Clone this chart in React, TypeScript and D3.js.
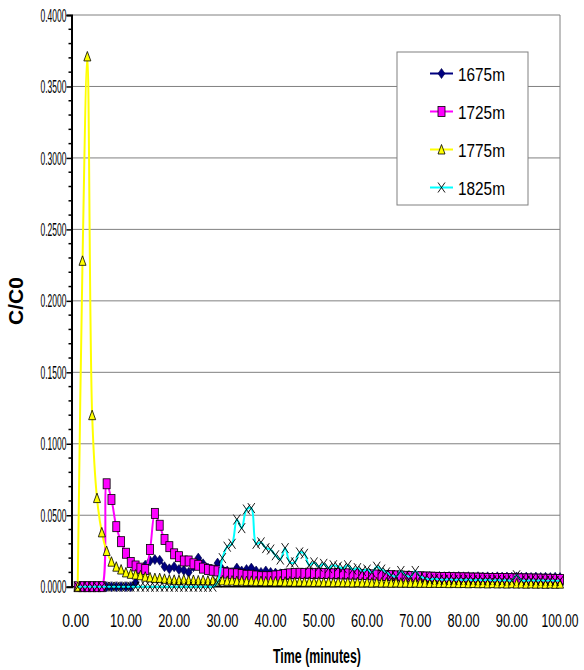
import React, { useEffect, useRef } from 'react';
import * as d3 from 'd3';

const width = 584;
const height = 670;

// C/C0 readings, one per minute from 0 to 100
const s1675 = [
  0, 0, 0, 0, 0, 0, 0, 0, 0, 0,
  0, 0, 0.003, 0.009, 0.015, 0.018, 0.019, 0.0185, 0.014, 0.0125,
  0.014, 0.012, 0.0115, 0.010, 0.014, 0.020, 0.016, 0.013, 0.012, 0.0165,
  0.012, 0.011, 0.010, 0.013, 0.011, 0.012, 0.013, 0.011, 0.010, 0.011,
  0.010, 0.0095, 0.009, 0.0092, 0.0088, 0.009, 0.0085, 0.0087, 0.0083, 0.0085,
  0.0082, 0.0084, 0.008, 0.0082, 0.0079, 0.008, 0.0078, 0.008, 0.0077, 0.0079,
  0.0076, 0.0078, 0.0075, 0.0077, 0.0074, 0.0076, 0.0073, 0.0075, 0.0072, 0.0074,
  0.0072, 0.0073, 0.0071, 0.0073, 0.007, 0.0072, 0.007, 0.0071, 0.0069, 0.0071,
  0.0069, 0.007, 0.0068, 0.007, 0.0068, 0.0069, 0.0067, 0.0069, 0.0067, 0.0068,
  0.0066, 0.0068, 0.0066, 0.0067, 0.0065, 0.0067, 0.0065, 0.0066, 0.0064, 0.0066, 0.0064,
];

const s1725 = [
  0, 0, 0, 0, 0, 0, 0.072, 0.061, 0.042, 0.0315,
  0.0234, 0.017, 0.0145, 0.013, 0.012, 0.026, 0.0513, 0.043, 0.033, 0.028,
  0.023, 0.021, 0.018, 0.018, 0.016, 0.015, 0.013, 0.012, 0.0115, 0.011,
  0.010, 0.0095, 0.009, 0.009, 0.0085, 0.008, 0.008, 0.0075, 0.007, 0.007,
  0.007, 0.0075, 0.008, 0.0085, 0.009, 0.0092, 0.0094, 0.0092, 0.0095, 0.0093,
  0.0094, 0.0092, 0.0093, 0.009, 0.0092, 0.0089, 0.009, 0.0088, 0.0089, 0.0086,
  0.0085, 0.0083, 0.0082, 0.008, 0.0079, 0.0077, 0.0076, 0.0074, 0.0073, 0.0071,
  0.007, 0.0069, 0.0068, 0.0067, 0.0066, 0.0065, 0.0064, 0.0064, 0.0063, 0.0062,
  0.0062, 0.0061, 0.006, 0.006, 0.0059, 0.0058, 0.0058, 0.0057, 0.0057, 0.0056,
  0.0056, 0.0055, 0.0055, 0.0054, 0.0054, 0.0053, 0.0053, 0.0052, 0.0052, 0.0051, 0.0051,
];

const s1775 = [
  0, 0.228, 0.371, 0.120, 0.062, 0.038, 0.025, 0.0175, 0.014, 0.012,
  0.010, 0.009, 0.0085, 0.008, 0.007, 0.0065, 0.006, 0.006, 0.0055, 0.005,
  0.0048, 0.0046, 0.005, 0.0045, 0.0047, 0.0044, 0.0046, 0.0043, 0.0045, 0.0042,
  0.0044, 0.0041, 0.0043, 0.004, 0.0042, 0.0039, 0.0041, 0.0038, 0.004, 0.0037,
  0.0039, 0.0036, 0.0038, 0.0035, 0.0037, 0.0034, 0.0036, 0.0034, 0.0035, 0.0033,
  0.0035, 0.0032, 0.0034, 0.0031, 0.0033, 0.0031, 0.0032, 0.003, 0.0032, 0.003,
  0.0031, 0.0029, 0.0031, 0.0029, 0.003, 0.0028, 0.003, 0.0028, 0.0029, 0.0027,
  0.0029, 0.0027, 0.0028, 0.0026, 0.0028, 0.0026, 0.0027, 0.0025, 0.0027, 0.0025,
  0.0026, 0.0024, 0.0026, 0.0024, 0.0025, 0.0023, 0.0025, 0.0023, 0.0024, 0.0022,
  0.0024, 0.0022, 0.0023, 0.0021, 0.0023, 0.0021, 0.0022, 0.002, 0.0022, 0.002, 0.0021,
];

const s1825 = [
  0, 0, 0, 0, 0, 0, 0, 0, 0, 0,
  0, 0, 0, 0, 0, 0, 0, 0, 0, 0,
  0, 0, 0, 0, 0, 0, 0, 0, 0, 0.003,
  0.020, 0.028, 0.030, 0.047, 0.041, 0.054, 0.055, 0.030, 0.031, 0.027,
  0.026, 0.022, 0.019, 0.027, 0.017, 0.017, 0.024, 0.023, 0.015, 0.017,
  0.014, 0.016, 0.013, 0.015, 0.014, 0.013, 0.015, 0.012, 0.013, 0.011,
  0.012, 0.010, 0.014, 0.012, 0.010, 0.008, 0.007, 0.011, 0.008, 0.007,
  0.011, 0.007, 0.006, 0.005, 0.0055, 0.005, 0.0048, 0.0052, 0.0047, 0.005,
  0.0046, 0.005, 0.0045, 0.0049, 0.0045, 0.0048, 0.0044, 0.0047, 0.0043, 0.0046,
  0.0043, 0.008, 0.0045, 0.0042, 0.0046, 0.0042, 0.0045, 0.0041, 0.0044, 0.0041, 0.0043,
];

const seriesNames = ['1675m', '1725m', '1775m', '1825m'];
const seriesValues = [s1675, s1725, s1775, s1825];
const seriesColors = ['#000080', '#ff00ff', '#ffff00', '#00ffff'];
const seriesMarkers = ['diamond', 'square', 'triangle', 'cross'];

const xTicks = [0, 10, 20, 30, 40, 50, 60, 70, 80, 90, 100];
const yTicks = [0, 0.05, 0.1, 0.15, 0.2, 0.25, 0.3, 0.35, 0.4];

const plot = { left: 71.5, right: 560, top: 15, bottom: 586.7 };
const font = 'Liberation Sans, Arial, sans-serif';

function drawMarker(g, type, x, y, color) {
  if (type === 'diamond') {
    g.append('path').attr('d', `M${x},${y - 5}L${x + 3.5},${y}L${x},${y + 5}L${x - 3.5},${y}Z`)
      .attr('fill', color).attr('stroke', '#000040').attr('stroke-width', 0.6);
  } else if (type === 'square') {
    g.append('rect').attr('x', x - 3.5).attr('y', y - 5).attr('width', 7).attr('height', 10)
      .attr('fill', color).attr('stroke', '#000').attr('stroke-width', 0.8);
  } else if (type === 'triangle') {
    g.append('path').attr('d', `M${x},${y - 5}L${x + 3.5},${y + 4.5}L${x - 3.5},${y + 4.5}Z`)
      .attr('fill', color).attr('stroke', '#000').attr('stroke-width', 0.8);
  } else {
    g.append('path').attr('d', `M${x - 3.5},${y - 5}L${x + 3.5},${y + 5}M${x + 3.5},${y - 5}L${x - 3.5},${y + 5}`)
      .attr('fill', 'none').attr('stroke', '#000').attr('stroke-width', 0.9);
  }
}

// text squeezed horizontally to a given width, like the old Excel export
function squeezed(parent, x, y, str, size, targetW, anchor, bold = false) {
  const g = parent.append('g');
  const t = g.append('text')
    .attr('font-family', font).attr('font-size', size)
    .attr('font-weight', bold ? 'bold' : 'normal')
    .attr('fill', '#000')
    .text(str);
  const w = t.node().getComputedTextLength() || targetW;
  const s = targetW / w;
  const x0 = anchor === 'end' ? x - targetW : anchor === 'middle' ? x - targetW / 2 : x;
  g.attr('transform', `translate(${x0},${y}) scale(${s},1)`);
  return g;
}

const App = () => {
  const ref = useRef(null);

  useEffect(() => {
    document.body.style.margin = '0';
    const svg = d3.select(ref.current);
    svg.selectAll('*').remove();

    const x = d3.scaleLinear().domain([0, 100]).range([77.7, 560]);
    const y = d3.scaleLinear().domain([0, 0.4]).range([plot.bottom, plot.top]);

    svg.append('rect').attr('width', width).attr('height', height).attr('fill', '#fff');

    // gridlines
    svg.append('g').selectAll('line').data(yTicks.filter(d => d > 0)).enter().append('line')
      .attr('x1', plot.left).attr('x2', plot.right)
      .attr('y1', d => y(d)).attr('y2', d => y(d))
      .attr('stroke', '#808080').attr('stroke-width', 1);
    svg.append('line').attr('x1', plot.right).attr('x2', plot.right)
      .attr('y1', plot.top).attr('y2', plot.bottom)
      .attr('stroke', '#808080').attr('stroke-width', 1);

    // y axis
    const yAxis = svg.append('g').attr('transform', `translate(${plot.left},0)`)
      .call(d3.axisLeft(y).tickValues(yTicks).tickSize(5).tickFormat(() => ''));
    yAxis.select('.domain').attr('stroke', '#000').attr('stroke-width', 2);
    yAxis.selectAll('.tick line').attr('stroke', '#000').attr('stroke-width', 1.5);
    const minor = d3.range(0, 0.4001, 0.01).filter((_, i) => i % 5 !== 0);
    svg.append('g').selectAll('line').data(minor).enter().append('line')
      .attr('x1', plot.left - 3).attr('x2', plot.left + 1.5)
      .attr('y1', d => y(d)).attr('y2', d => y(d))
      .attr('stroke', '#000').attr('stroke-width', 1.5);
    const yLabels = svg.append('g');
    yTicks.forEach(d => squeezed(yLabels, 66.5, y(d) + 6.6, d3.format('.4f')(d), 18.5, 26, 'end'));

    // x axis baseline and labels
    svg.append('line').attr('x1', plot.left).attr('x2', plot.right)
      .attr('y1', plot.bottom).attr('y2', plot.bottom)
      .attr('stroke', '#000').attr('stroke-width', 1.5);
    const xLabels = svg.append('g');
    xTicks.forEach(d => squeezed(xLabels, x(d) - (d === 0 ? 2 : 0), 626.5, d3.format('.2f')(d), 18,
      d === 0 ? 27 : d === 100 ? 37 : 32, 'middle'));

    // series
    const line = d3.line().x((d, i) => x(i)).y(d => y(d)).curve(d3.curveCatmullRom.alpha(0.5));
    seriesValues.forEach((vals, si) => {
      const g = svg.append('g');
      g.append('path').datum(vals).attr('d', line)
        .attr('fill', 'none').attr('stroke', seriesColors[si]).attr('stroke-width', 2);
      vals.forEach((v, i) => drawMarker(g, seriesMarkers[si], x(i), y(v), seriesColors[si]));
    });

    // legend
    const legend = svg.append('g');
    legend.append('rect').attr('x', 397).attr('y', 52).attr('width', 131).attr('height', 153)
      .attr('fill', '#fff').attr('stroke', '#808080').attr('stroke-width', 1);
    seriesNames.forEach((name, i) => {
      const cy = 73.5 + i * 38;
      legend.append('line').attr('x1', 430).attr('x2', 453).attr('y1', cy).attr('y2', cy)
        .attr('stroke', seriesColors[i]).attr('stroke-width', 2);
      drawMarker(legend, seriesMarkers[i], 441.5, cy, seriesColors[i]);
      squeezed(legend, 458, cy + 7, name, 19, 47, 'start');
    });

    // axis titles
    svg.append('text').attr('transform', 'translate(23,301) rotate(-90)')
      .attr('text-anchor', 'middle')
      .attr('font-family', font).attr('font-size', 21)
      .attr('font-weight', 'bold').text('C/C0');
    squeezed(svg, 273, 663, 'Time (minutes)', 21, 88, 'start', true);
  }, []);

  return <svg ref={ref} width={width} height={height} style={{ display: 'block' }}></svg>;
};

export default App;
